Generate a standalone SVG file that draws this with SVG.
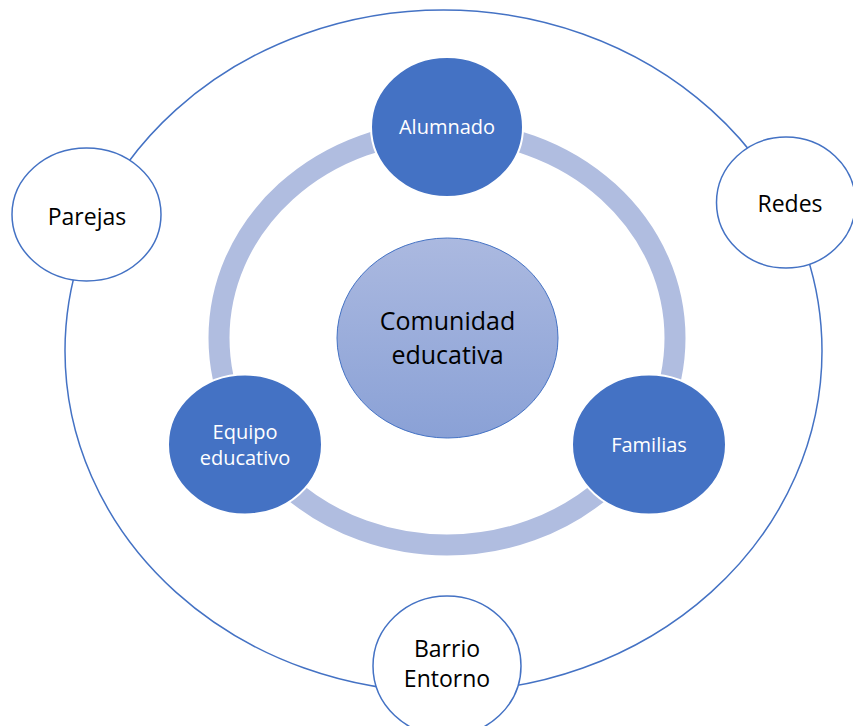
<svg xmlns="http://www.w3.org/2000/svg" width="853" height="726" viewBox="0 0 853 726">
  <defs>
    <linearGradient id="coreFill" x1="0" y1="0" x2="0" y2="1">
      <stop offset="0" stop-color="#abb9e0"/>
      <stop offset="1" stop-color="#8aa1d6"/>
    </linearGradient>
  </defs>
  <style>
    text { font-family: "Open Sans", "Liberation Sans", sans-serif; text-anchor: middle; dominant-baseline: central; }
    .outer { fill: none; stroke: #4472c4; stroke-width: 1.5; }
    .ring { fill: none; stroke: #b0bde0; stroke-width: 21; }
    .core { fill: url(#coreFill); stroke: #4472c4; stroke-width: 1; }
    .member { fill: #4472c4; stroke: #ffffff; stroke-width: 2; }
    .member-label { fill: #ffffff; font-size: 20px; }
    .env { fill: #ffffff; stroke: #4472c4; stroke-width: 1.5; }
    .env-label { fill: #000000; font-size: 23px; }
    .core-label { fill: #000000; font-size: 25px; }
  </style>

  <rect width="853" height="726" fill="#ffffff"/>

  <!-- orbits linking the groups -->
  <g id="connectors">
    <ellipse class="outer" cx="443.5" cy="351" rx="378.5" ry="341"/>
    <ellipse class="ring" cx="447" cy="338" rx="228" ry="207"/>
  </g>

  <g id="comunidad">
    <ellipse class="core" cx="447.5" cy="338" rx="110.5" ry="100"/>
    <text class="core-label" x="447.5" y="320">Comunidad</text>
    <text class="core-label" x="447.5" y="354">educativa</text>
  </g>

  <g id="alumnado">
    <ellipse class="member" cx="447" cy="127" rx="76" ry="70"/>
    <text class="member-label" x="447" y="126">Alumnado</text>
  </g>

  <g id="equipo">
    <ellipse class="member" cx="245" cy="444.5" rx="77" ry="70"/>
    <text class="member-label" x="245" y="431">Equipo</text>
    <text class="member-label" x="245" y="457">educativo</text>
  </g>

  <g id="familias">
    <ellipse class="member" cx="649" cy="444.5" rx="77" ry="70"/>
    <text class="member-label" x="649" y="444">Familias</text>
  </g>

  <g id="parejas">
    <ellipse class="env" cx="86.5" cy="214.5" rx="74.5" ry="66.5"/>
    <text class="env-label" x="87" y="216">Parejas</text>
  </g>

  <g id="redes">
    <ellipse class="env" cx="786" cy="202.5" rx="69.5" ry="65.5"/>
    <text class="env-label" x="790" y="203">Redes</text>
  </g>

  <g id="barrio">
    <ellipse class="env" cx="447" cy="666" rx="74" ry="70"/>
    <text class="env-label" x="447" y="648">Barrio</text>
    <text class="env-label" x="447" y="678">Entorno</text>
  </g>
</svg>
